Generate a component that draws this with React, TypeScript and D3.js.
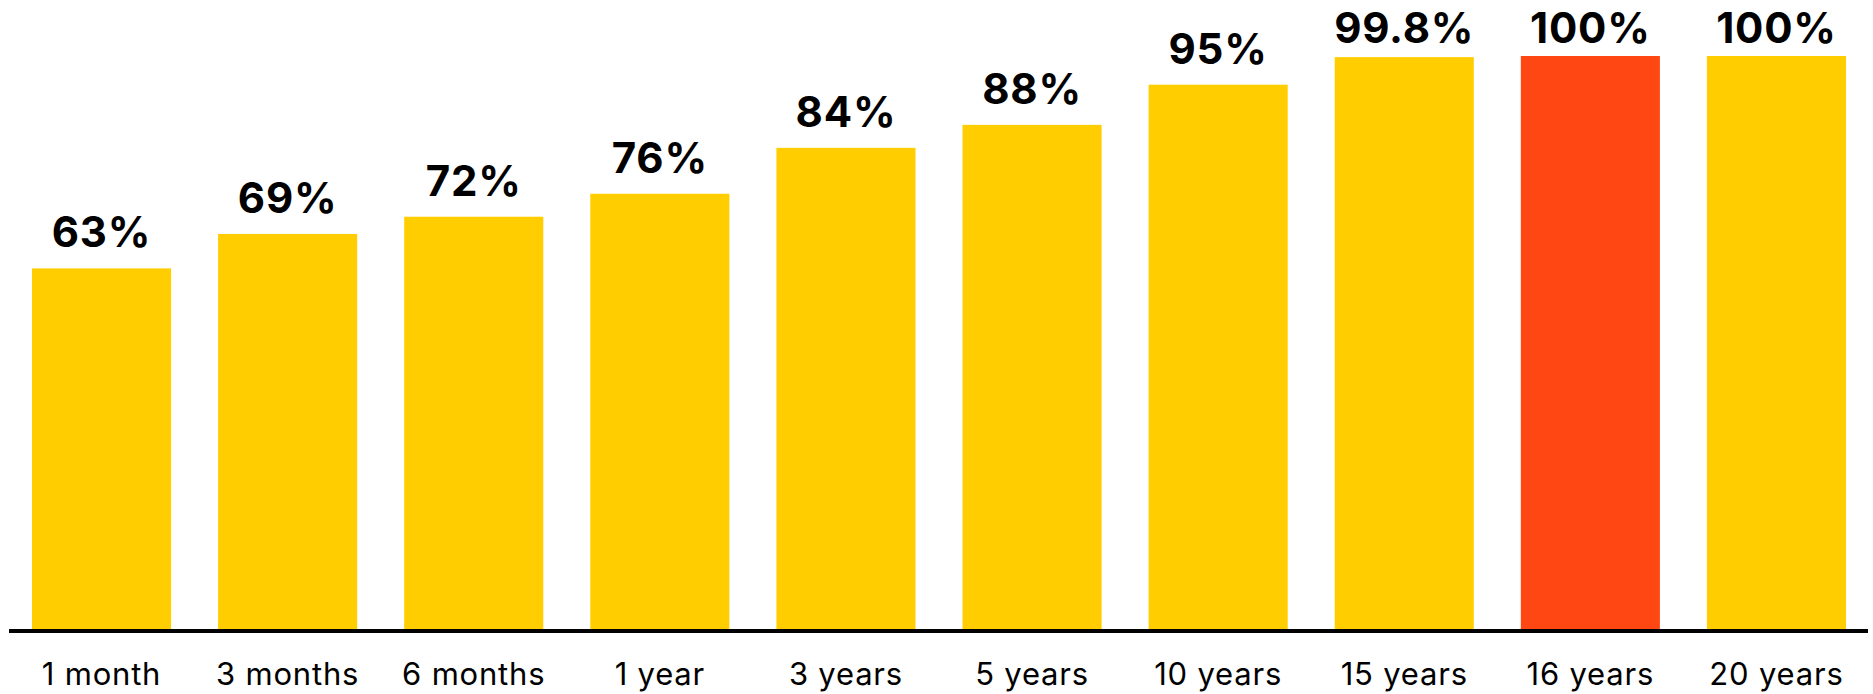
import React from "react";
import * as d3 from "d3";

const categories = ["1 month", "3 months", "6 months", "1 year", "3 years", "5 years", "10 years", "15 years", "16 years", "20 years"];
const values = [63, 69, 72, 76, 84, 88, 95, 99.8, 100, 100];
const valueLabels = ["63%", "69%", "72%", "76%", "84%", "88%", "95%", "99.8%", "100%", "100%"];
const highlighted = ["16 years"];

const W = 1873;
const H = 694;

export default function App() {
  const x = d3.scaleBand<string>().domain(categories).range([32, 1846]).paddingInner(47 / 186).paddingOuter(0);
  const y = d3.scaleLinear().domain([0, 100]).range([630, 56]);
  const fontFamily = "Inter, 'Noto Sans', sans-serif";
  return (
    <div style={{ position: "absolute", left: 0, top: 0 }}>
      <svg width={W} height={H} style={{ display: "block" }}>
        <rect x={0} y={0} width={W} height={H} fill="#fff" />
        {categories.map((c, i) => {
          const x0 = x(c)!;
          const yt = y(values[i]);
          return (
            <g key={c}>
              <rect x={x0} y={yt} width={x.bandwidth()} height={y(0) - yt} fill={highlighted.includes(c) ? "#FF4713" : "#FFCD00"} />
              <text x={x0 + x.bandwidth() / 2} y={Math.max(yt - 21, 43)} textAnchor="middle" fontFamily={fontFamily} fontWeight={700} fontSize={42} letterSpacing={0.8} fill="#000">{valueLabels[i]}</text>
              <text x={x0 + x.bandwidth() / 2} y={685} textAnchor="middle" fontFamily={fontFamily} fontWeight={400} fontSize={31} letterSpacing={0.8} fill="#000">{c}</text>
            </g>
          );
        })}
        <line x1={9} x2={1868} y1={631} y2={631} stroke="#000" strokeWidth={4} />
      </svg>
    </div>
  );
}
